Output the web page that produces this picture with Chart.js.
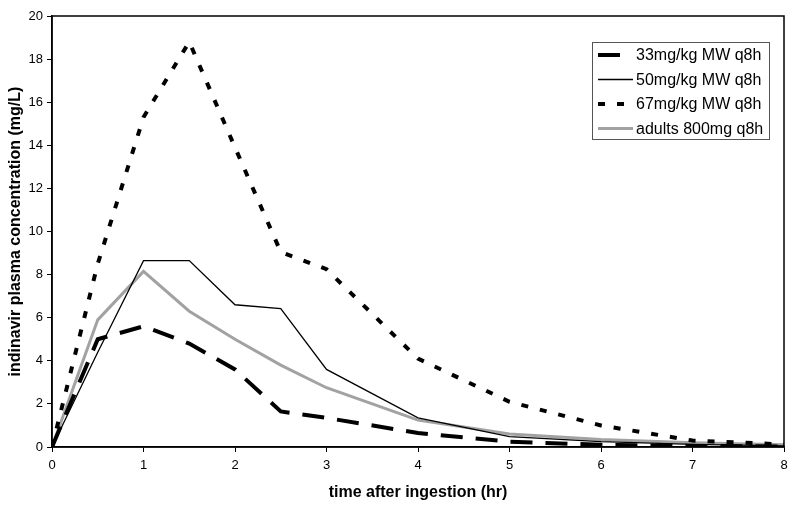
<!DOCTYPE html>
<html>
<head>
<meta charset="utf-8">
<script src="https://cdn.jsdelivr.net/npm/chart.js@4.4.0/dist/chart.umd.min.js"></script>
<style>
  html, body { margin: 0; padding: 0; background: #fff; }
  #wrap { width: 800px; height: 512px; }
</style>
</head>
<body>
<div id="wrap"><canvas id="pk-chart"></canvas></div>
<script>
// data
const times = [0, 0.5, 1, 1.5, 2, 2.5, 3, 4, 5, 6, 7, 8];
const dose33 = [0, 5.0, 5.6, 4.8, 3.6, 1.65, 1.35, 0.65, 0.25, 0.1, 0.05, 0.02];
const dose50 = [0, 4.4, 8.65, 8.65, 6.6, 6.42, 3.6, 1.35, 0.48, 0.25, 0.12, 0.05];
const dose67 = [0, 8.5, 15.3, 18.8, 13.9, 9.05, 8.25, 4.1, 2.1, 1.0, 0.3, 0.12];
const adults = [0, 5.9, 8.15, 6.3, 5.0, 3.8, 2.75, 1.25, 0.6, 0.35, 0.2, 0.1];
const seriesLabels = ['33mg/kg MW q8h', '50mg/kg MW q8h', '67mg/kg MW q8h', 'adults 800mg q8h'];

const FONT = '"Liberation Sans", Arial, sans-serif';

const toPoints = vals => vals.map((v, i) => ({ x: times[i], y: v }));

// frame around plot + legend box
const framePlugin = {
  id: 'frame',
  afterDraw(chart) {
    const { ctx, chartArea: a } = chart;
    ctx.save();
    ctx.strokeStyle = '#000';
    ctx.lineWidth = 1.5;
    ctx.strokeRect(a.left, a.top, a.right - a.left, a.bottom - a.top);

    // legend
    const bx = 592, by = 42, bw = 177, bh = 97;
    ctx.fillStyle = '#fff';
    ctx.fillRect(bx, by, bw, bh);
    ctx.strokeStyle = '#555';
    ctx.lineWidth = 1;
    ctx.strokeRect(bx + 0.5, by + 0.5, bw, bh);
    ctx.font = '16px ' + FONT;
    ctx.textBaseline = 'middle';
    chart.data.datasets.forEach((ds, i) => {
      const yy = by + 13 + i * 24.5;
      // the long-dash sample only shows one dash, like the original
      const len = i === 0 ? 22 : 35;
      ctx.beginPath();
      ctx.setLineDash(ds.borderDash || []);
      ctx.strokeStyle = ds.borderColor;
      ctx.lineWidth = ds.borderWidth;
      ctx.moveTo(598, yy);
      ctx.lineTo(598 + len, yy);
      ctx.stroke();
      ctx.setLineDash([]);
      ctx.fillStyle = '#000';
      ctx.fillText(ds.label, 636, yy + 1);
    });
    ctx.restore();
  }
};

const ctx = document.getElementById('pk-chart');

new Chart(ctx, {
  type: 'line',
  data: {
    datasets: [{
      label: seriesLabels[0],
      data: toPoints(dose33),
      borderColor: '#000',
      borderWidth: 4,
      borderDash: [22, 13],
      pointRadius: 0,
      tension: 0
    },
    {
      label: seriesLabels[1],
      data: toPoints(dose50),
      borderColor: '#000',
      borderWidth: 1.3,
      pointRadius: 0,
      tension: 0
    },
    {
      label: seriesLabels[2],
      data: toPoints(dose67),
      borderColor: '#000',
      borderWidth: 4,
      borderDash: [7, 12],
      pointRadius: 0,
      tension: 0
    },
    {
      label: seriesLabels[3],
      data: toPoints(adults),
      borderColor: '#a2a2a2',
      borderWidth: 3,
      pointRadius: 0,
      tension: 0
    }]
  },
  options: {
    responsive: true,
    maintainAspectRatio: false,
    animation: false,
    layout: {
      padding: { left: 0, right: 16, top: 16, bottom: 0 }
    },
    plugins: {
      legend: { display: false },
      tooltip: { enabled: false }
    },
    scales: {
      x: {
        type: 'linear',
        min: 0,
        max: 8,
        afterFit: scale => { scale.height = 65; },
        border: { display: true, color: '#000', width: 1.5 },
        grid: {
          drawOnChartArea: false,
          drawTicks: true,
          tickLength: 5,
          color: '#000'
        },
        ticks: {
          stepSize: 1,
          color: '#000',
          padding: 6,
          font: { family: FONT, size: 13 }
        },
        title: {
          display: true,
          text: 'time after ingestion (hr)',
          color: '#000',
          font: { family: FONT, size: 16, weight: 'bold' },
          padding: { top: 0, bottom: 10 }
        }
      },
      y: {
        min: 0,
        max: 20,
        afterFit: scale => { scale.width = 52; },
        border: { display: true, color: '#000', width: 1.5 },
        grid: {
          drawOnChartArea: false,
          drawTicks: true,
          tickLength: 5,
          color: '#000'
        },
        ticks: {
          stepSize: 2,
          color: '#000',
          padding: 4,
          font: { family: FONT, size: 13 }
        },
        title: {
          display: true,
          text: 'indinavir plasma concentration (mg/L)',
          color: '#000',
          font: { family: FONT, size: 16, weight: 'bold' },
          padding: { top: 6, bottom: 0 }
        }
      }
    }
  },
  plugins: [framePlugin]
});
</script>
</body>
</html>
